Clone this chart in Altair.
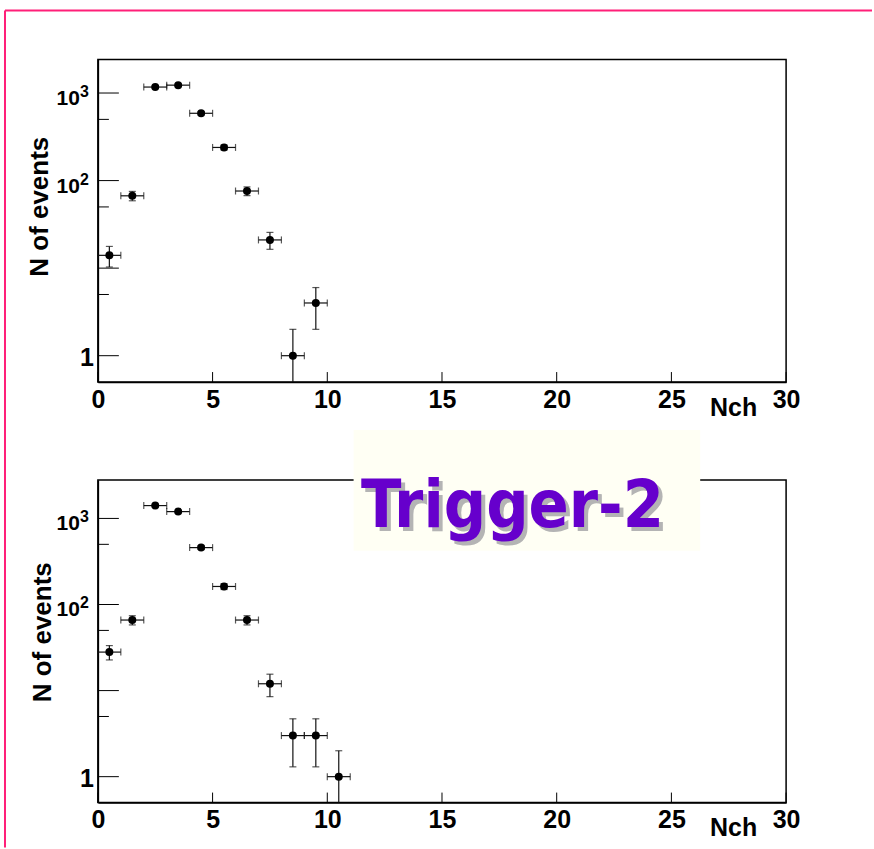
import altair as alt
import pandas as pd
import numpy as np

# ---------------- data ----------------
x_top = [0.5, 1.5, 2.5, 3.5, 4.5, 5.5, 6.5, 7.5, 8.5, 9.5]
n_top = [14, 67, 1170, 1230, 587, 239, 76, 21, 1, 4]
e_top = [3.7, 8.2, 34.2, 35.1, 24.2, 15.5, 8.7, 4.6, 1.0, 2.0]

x_bot = [0.5, 1.5, 2.5, 3.5, 4.5, 5.5, 6.5, 7.5, 8.5, 9.5, 10.5]
n_bot = [28, 66, 1410, 1200, 458, 162, 66, 12, 3, 3, 1]
e_bot = [5.3, 8.1, 37.5, 34.6, 21.4, 12.7, 8.1, 3.5, 1.7, 1.7, 1.0]

half_bin = 0.5
x_domain = [0, 30]
y_domain_top = [0.5, 2420]
y_domain_bot = [0.5, 2800]

x_major = [0, 5, 10, 15, 20, 25, 30]
y_major = [1, 10, 100, 1000]
y_minor = [5, 50, 500]
exp_vals = [1000, 100]
exp_base = ["10", "10"]
exp_pow = ["3", "2"]
one_vals = [1]
one_text = ["1"]

FONT = "Liberation Sans"
BADGE_FONT = "DejaVu Sans Condensed, Roboto Condensed, Roboto, sans-serif"
PINK = "#ff1f78"
W, H = 689, 323


def panel(xs, ns, es, ydom, ytitle_x, ytitle_y, border=False, badge=False):
    ymin = ydom[0]
    df = pd.DataFrame({"x": xs, "n": ns, "e": es})
    df["xlo"] = df["x"] - half_bin
    df["xhi"] = df["x"] + half_bin
    df["yhi"] = df["n"] + df["e"]
    df["ylo"] = np.maximum(df["n"] - df["e"], ymin)
    df_lo = df[df["n"] - df["e"] > ymin]

    xs_ = alt.Scale(domain=x_domain, nice=False, zero=False)
    ys_ = alt.Scale(type="log", domain=ydom, nice=False)

    xaxis = alt.Axis(values=x_major, title="Nch", labelFont=FONT, labelFontSize=25,
                     labelFontWeight="bold", labelColor="black", labelPadding=5,
                     labelFlush=False, labelOverlap=False, ticks=False, tickSize=0,
                     grid=False, domainColor="black", domainWidth=1.5,
                     titleFont=FONT, titleFontSize=25, titleFontWeight="bold",
                     titleColor="black", titleX=636, titleY=33, titleAlign="center",
                     titleBaseline="alphabetic")
    yaxis = alt.Axis(values=y_major, title="N of events", labels=False, ticks=False,
                     tickSize=0, grid=False, domainColor="black", domainWidth=1.5,
                     titleFont=FONT, titleFontSize=26, titleFontWeight="bold",
                     titleColor="black", titleX=ytitle_x, titleY=ytitle_y,
                     titleAngle=270, titleAlign="center", titleBaseline="middle")

    def X(f):
        return alt.X(f, type="quantitative", scale=xs_, axis=xaxis)

    def Y(f):
        return alt.Y(f, type="quantitative", scale=ys_, axis=yaxis)

    ink = "#111111"
    base = alt.Chart(df)
    xerr = base.mark_rule(color=ink, strokeWidth=1.2).encode(
        x=X("xlo"), x2="xhi:Q", y=Y("n"))
    yerr = base.mark_rule(color=ink, strokeWidth=1.2).encode(
        x=X("x"), y=Y("ylo"), y2="yhi:Q")
    cap_xl = base.mark_tick(orient="vertical", size=7, thickness=1.2, color=ink).encode(
        x=X("xlo"), y=Y("n"))
    cap_xh = base.mark_tick(orient="vertical", size=7, thickness=1.2, color=ink).encode(
        x=X("xhi"), y=Y("n"))
    cap_yh = base.mark_tick(orient="horizontal", size=7, thickness=1.2, color=ink).encode(
        x=X("x"), y=Y("yhi"))
    cap_yl = alt.Chart(df_lo).mark_tick(orient="horizontal", size=7, thickness=1.2,
                                        color=ink).encode(x=X("x"), y=Y("ylo"))
    pts = base.mark_circle(size=64, color="black", opacity=1).encode(x=X("x"), y=Y("n"))

    ymaj = alt.Chart(pd.DataFrame({"v": y_major})).mark_rule(color="black", strokeWidth=1).encode(
        y=Y("v"), x=alt.value(0), x2=alt.value(21))
    ymin_t = alt.Chart(pd.DataFrame({"v": y_minor})).mark_rule(color="black", strokeWidth=1).encode(
        y=Y("v"), x=alt.value(0), x2=alt.value(11))
    xmaj = alt.Chart(pd.DataFrame({"v": x_major})).mark_rule(color="black", strokeWidth=1).encode(
        x=X("v"), y=alt.value(H), y2=alt.value(H - 10))

    lab_df = pd.DataFrame({"v": exp_vals, "b": exp_base, "p": exp_pow})
    lab10 = alt.Chart(lab_df).mark_text(align="right", baseline="alphabetic", dy=12,
                                        font=FONT, fontWeight="bold", fontSize=21,
                                        color="black").encode(
        x=alt.value(-18), y=Y("v"), text="b:N")
    labp = alt.Chart(lab_df).mark_text(align="left", baseline="alphabetic", dy=4,
                                       font=FONT, fontWeight="bold", fontSize=16,
                                       color="black").encode(
        x=alt.value(-18), y=Y("v"), text="p:N")
    lab1 = alt.Chart(pd.DataFrame({"v": one_vals, "t": one_text})).mark_text(
        align="right", baseline="alphabetic", dy=10.5, font=FONT, fontWeight="bold",
        fontSize=25, color="black").encode(x=alt.value(-4), y=Y("v"), text="t:N")

    layers = [xerr, yerr, cap_xl, cap_xh, cap_yh, cap_yl, pts, ymaj, ymin_t, xmaj,
              lab10, labp, lab1]

    one = pd.DataFrame({"k": [0]})
    if border:
        layers.append(alt.Chart(one).mark_rule(color=PINK, strokeWidth=2).encode(
            x=alt.value(-93), y=alt.value(-49), y2=alt.value(789)))
        layers.append(alt.Chart(one).mark_rule(color=PINK, strokeWidth=2).encode(
            x=alt.value(-93), x2=alt.value(775), y=alt.value(-49)))
    if badge:
        layers.append(alt.Chart(one).mark_rect(color="#fffff4").encode(
            x=alt.value(256), x2=alt.value(603), y=alt.value(-50), y2=alt.value(71)))
        layers.append(alt.Chart(pd.DataFrame({"t": ["Trigger-2"]})).mark_text(
            align="center", baseline="alphabetic", font=BADGE_FONT,
            fontWeight="bold", fontSize=66, color="#b4b4b4").encode(
            x=alt.value(419), y=alt.value(51), text="t:N"))
        layers.append(alt.Chart(pd.DataFrame({"t": ["Trigger-2"]})).mark_text(
            align="center", baseline="alphabetic", font=BADGE_FONT,
            fontWeight="bold", fontSize=66, color="#6600cc").encode(
            x=alt.value(415), y=alt.value(47), text="t:N"))

    return alt.layer(*layers).properties(width=W, height=H)


top = panel(x_top, n_top, e_top, y_domain_top, -58, 147, border=True)
bot = panel(x_bot, n_bot, e_bot, y_domain_bot, -55, 152, badge=True)

chart = alt.vconcat(top, bot, spacing=98, bounds="flush").properties(
    padding={"left": 3, "top": 8, "right": 0, "bottom": 0},
    background="white",
).configure_view(stroke="black", strokeWidth=1.5)

chart.save("out.html", embed_options={"renderer": "svg", "actions": False})
